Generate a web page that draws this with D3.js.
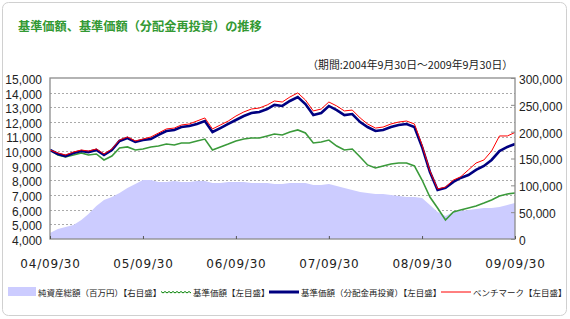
<!DOCTYPE html>
<html>
<head>
<meta charset="utf-8">
<script src="https://cdn.jsdelivr.net/npm/d3@7"></script>
<style>
    body { margin: 0; background: #fff; }
    text { fill: #222; }
</style>
</head>
<body>
<svg id="chart" width="570" height="319"></svg>
<script>
// Month-end values, 2004/09/30 .. 2009/09/30 (61 points)
// 純資産総額 (百万円) - right axis
const assetTotal = [
    11180, 18630, 22360, 26090, 35400, 46590, 61490, 72670, 78260, 85720, 95030, 102490,
    109940, 109940, 106210, 106210, 108080, 106210, 106210, 108080, 108080, 104350, 104350, 106210,
    106210, 106210, 104350, 104350, 104350, 102490, 102490, 104350, 104350, 104350, 100620, 100620,
    102490, 98760, 95030, 91310, 87580, 85720, 83850, 83850, 81990, 80130, 78260, 78260,
    76400, 63360, 50310, 42860, 50310, 52180, 54040, 55900, 57770, 57770, 59630, 63360, 67080
];
// 基準価額 - left axis
const navBase = [
    10080, 9740, 9600, 9740, 9880, 9740, 9810, 9400, 9670, 10220, 10290, 10080,
    10150, 10290, 10350, 10490, 10420, 10560, 10560, 10700, 10830, 10080, 10290, 10490,
    10700, 10830, 10900, 10900, 11040, 11170, 11110, 11310, 11450, 11240, 10560, 10630,
    10760, 10350, 10080, 10150, 9600, 9060, 8850, 8990, 9130, 9190, 9190, 8990,
    8030, 6870, 6120, 5300, 5850, 5980, 6120, 6260, 6460, 6670, 6940, 7080, 7140
];
// 基準価額 (分配金再投資) - left axis
const navReinvest = [
    10080, 9810, 9670, 9880, 10010, 9940, 10080, 9740, 10080, 10700, 10900, 10630,
    10760, 10830, 11110, 11380, 11450, 11650, 11720, 11860, 12060, 11310, 11580, 11860,
    12130, 12400, 12610, 12680, 12880, 13160, 13090, 13430, 13700, 13220, 12470, 12610,
    13090, 12810, 12470, 12540, 11990, 11650, 11380, 11450, 11650, 11790, 11860, 11650,
    10290, 8580, 7350, 7490, 7900, 8170, 8370, 8720, 8990, 9400, 10010, 10290, 10490
];
// ベンチマーク - left axis
const benchmark = [
    10080, 9880, 9740, 9940, 10080, 10010, 10150, 9810, 10150, 10760, 10970, 10700,
    10830, 10970, 11240, 11520, 11580, 11790, 11860, 12060, 12270, 11520, 11790, 12060,
    12400, 12680, 12880, 12950, 13160, 13430, 13360, 13700, 13980, 13500, 12750, 12880,
    13360, 13090, 12750, 12810, 12270, 11860, 11580, 11650, 11860, 11990, 12060, 11860,
    10420, 8650, 7420, 7550, 8030, 8240, 8720, 9190, 9400, 10010, 11040, 11040, 11280
];

const xTickLabels = ["04/09/30", "05/09/30", "06/09/30", "07/09/30", "08/09/30", "09/09/30"];
const leftTicks = [4000, 5000, 6000, 7000, 8000, 9000, 10000, 11000, 12000, 13000, 14000, 15000];
const rightTicks = [0, 50000, 100000, 150000, 200000, 250000, 300000];

const titleText = "基準価額、基準価額（分配金再投資）の推移";
const periodText = "（期間:2004年9月30日～2009年9月30日）";
const legendItems = [
    { label: "純資産総額（百万円）【右目盛】", kind: "area" },
    { label: "基準価額【左目盛】", kind: "base" },
    { label: "基準価額（分配金再投資）【左目盛】", kind: "reinvest" },
    { label: "ベンチマーク【左目盛】", kind: "bench" }
];

// Colours
const areaColor = '#ccccff';
const baseColor = '#3a9a3a';
const reinvestColor = '#000080';
const benchColor = '#ff0000';
const frameColor = '#8c8c8c';
const jpFont = '"Noto Sans CJK JP", sans-serif';

// Month-end dates for the series
const dates = d3.range(assetTotal.length)
    .map(i => d3.timeDay.offset(d3.timeMonth.offset(new Date(2004, 9, 1), i), -1));

const plot = { left: 50, right: 515, top: 78, bottom: 239 };

const x = d3.scaleTime()
    .domain([new Date(2004, 8, 30), new Date(2009, 8, 30)])
    .range([plot.left, plot.right]);
const yLeft = d3.scaleLinear().domain([4000, 15000]).range([plot.bottom, plot.top]);
const yRight = d3.scaleLinear().domain([0, 300000]).range([plot.bottom, plot.top]);

const svg = d3.select('#chart');

// Outer rounded frame
svg.append('rect')
    .attr('x', 2.5).attr('y', 2.5)
    .attr('width', 564).attr('height', 313)
    .attr('rx', 6)
    .attr('fill', '#fff')
    .attr('stroke', '#d0d0d0');

// Title
svg.append('text')
    .attr('x', 18).attr('y', 31)
    .style('font-family', jpFont)
    .style('font-size', '12.2px')
    .style('font-weight', 'bold')
    .style('fill', '#339933')
    .text(titleText);

// Period
svg.append('text')
    .attr('x', 513).attr('y', 69)
    .attr('text-anchor', 'end')
    .style('font-family', jpFont)
    .style('font-size', '10.8px')
    .text(periodText);

// Dotted grid lines
svg.append('g')
    .selectAll('line')
    .data(leftTicks.slice(1, -1))
    .join('line')
    .attr('x1', plot.left).attr('x2', plot.right)
    .attr('y1', d => Math.round(yLeft(d)) + 0.5)
    .attr('y2', d => Math.round(yLeft(d)) + 0.5)
    .attr('stroke', '#aaa')
    .attr('stroke-dasharray', '2,2');

svg.append('clipPath').attr('id', 'plot-clip')
    .append('rect')
    .attr('x', plot.left).attr('y', plot.top)
    .attr('width', plot.right - plot.left).attr('height', plot.bottom - plot.top);

const content = svg.append('g').attr('clip-path', 'url(#plot-clip)');

// Net assets area (right axis)
content.append('path')
    .datum(assetTotal)
    .attr('fill', areaColor)
    .attr('d', d3.area()
        .x((d, i) => x(dates[i]))
        .y0(plot.bottom)
        .y1(d => yRight(d)));

const lineGen = d3.line()
    .x((d, i) => x(dates[i]))
    .y(d => yLeft(d));

content.append('path')
    .datum(navBase)
    .attr('fill', 'none')
    .attr('stroke', baseColor)
    .attr('stroke-width', 1.6)
    .attr('d', lineGen);

content.append('path')
    .datum(navReinvest)
    .attr('fill', 'none')
    .attr('stroke', reinvestColor)
    .attr('stroke-width', 2.6)
    .attr('d', lineGen);

content.append('path')
    .datum(benchmark)
    .attr('fill', 'none')
    .attr('stroke', benchColor)
    .attr('stroke-width', 1)
    .attr('d', lineGen);

// Plot frame
svg.append('rect')
    .attr('x', plot.left).attr('y', plot.top)
    .attr('width', plot.right - plot.left).attr('height', plot.bottom - plot.top)
    .attr('fill', 'none')
    .attr('stroke', frameColor)
    .attr('stroke-width', 1.3);

// Left axis labels
const leftAxis = svg.append('g')
    .attr('transform', `translate(${plot.left},0)`)
    .call(d3.axisLeft(yLeft).tickValues(leftTicks).tickFormat(d3.format(',')).tickSize(0).tickPadding(8));
leftAxis.select('.domain').remove();
leftAxis.selectAll('text')
    .attr('dy', '0.45em')
    .style('font-family', '"Liberation Sans", Arial, sans-serif')
    .style('font-size', '12px')
    .style('fill', '#222');

// Right axis with inward ticks
const rightAxis = svg.append('g')
    .attr('transform', `translate(${plot.right},0)`)
    .call(d3.axisRight(yRight).tickValues(rightTicks).tickFormat(d3.format(',')).tickSize(-4).tickPadding(4));
rightAxis.select('.domain').remove();
rightAxis.selectAll('line').attr('stroke', frameColor);
rightAxis.selectAll('text')
    .attr('dy', '0.45em')
    .style('font-family', '"Liberation Sans", Arial, sans-serif')
    .style('font-size', '12px')
    .style('fill', '#222');

// Bottom axis: short inward ticks, labels below
const xTickDates = xTickLabels.map(s => new Date(2000 + +s.slice(0, 2), 8, 30));
const bottomAxis = svg.append('g')
    .attr('transform', `translate(0,${plot.bottom})`)
    .call(d3.axisBottom(x).tickValues(xTickDates).tickFormat((d, i) => xTickLabels[i]).tickSize(-3).tickPadding(20));
bottomAxis.select('.domain').remove();
bottomAxis.selectAll('line').attr('stroke', '#555');
bottomAxis.selectAll('text')
    .style('font-family', '"DejaVu Sans", sans-serif')
    .style('font-size', '12px')
    .style('letter-spacing', '0.8px')
    .style('fill', '#222');

// Legend
const legendY = 292;
const legendX = [8, 161, 269, 441];
const legend = svg.append('g');
legendItems.forEach((item, i) => {
    const g = legend.append('g').attr('transform', `translate(${legendX[i]},${legendY})`);
    if (item.kind === 'area') {
        g.append('rect')
            .attr('x', 0).attr('y', -5)
            .attr('width', 28).attr('height', 9)
            .attr('fill', areaColor);
    } else if (item.kind === 'base') {
        const zig = d3.range(0, 31, 2).map((v, j) => [v, j % 2 ? 1 : -0.5]);
        g.append('path')
            .attr('d', d3.line()(zig))
            .attr('fill', 'none')
            .attr('stroke', '#008000')
            .attr('stroke-width', 1);
    } else {
        g.append('line')
            .attr('x1', 0).attr('x2', 30)
            .attr('y1', 0).attr('y2', 0)
            .attr('stroke', item.kind === 'reinvest' ? reinvestColor : benchColor)
            .attr('stroke-width', item.kind === 'reinvest' ? 3 : 1);
    }
    g.append('text')
        .attr('x', item.kind === 'area' ? 30 : 32)
        .attr('y', 4)
        .style('font-family', jpFont)
        .style('font-size', '8.5px')
        .text(item.label);
});
</script>
</body>
</html>
